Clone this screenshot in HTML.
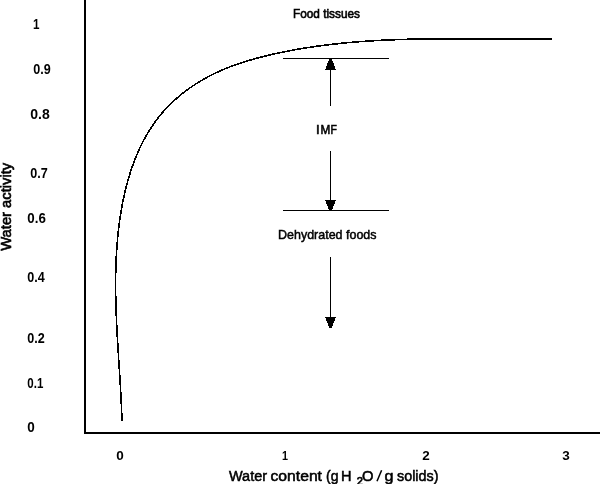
<!DOCTYPE html>
<html><head><meta charset="utf-8">
<style>
html,body{margin:0;padding:0;background:#fff;width:600px;height:484px;overflow:hidden}
svg{display:block;will-change:transform}
text{font-family:"Liberation Sans",sans-serif;fill:#000}
.b{font-weight:bold}
</style></head><body>
<svg width="600" height="484" viewBox="0 0 600 484">
<rect x="0" y="0" width="600" height="484" fill="#fff"/>
<!-- axes -->
<rect x="84" y="0" width="2" height="434" fill="#000"/>
<rect x="84" y="432" width="516" height="2" fill="#000"/>
<!-- curve -->
<path id="curve" transform="translate(0,0.2)" d="M121.99,420.50 L121.93,418.68 L121.86,416.85 L121.80,415.03 L121.73,413.21 L121.66,411.38 L121.58,409.56 L121.50,407.74 L121.42,405.92 L121.34,404.10 L121.25,402.28 L121.16,400.46 L121.07,398.64 L120.97,396.82 L120.88,395.00 L120.78,393.19 L120.68,391.37 L120.58,389.55 L120.47,387.74 L120.37,385.92 L120.26,384.11 L120.15,382.29 L120.04,380.48 L119.93,378.66 L119.82,376.85 L119.71,375.04 L119.59,373.22 L119.48,371.41 L119.36,369.60 L119.25,367.79 L119.13,365.98 L119.02,364.16 L118.90,362.35 L118.79,360.54 L118.67,358.73 L118.56,356.92 L118.44,355.11 L118.33,353.30 L118.22,351.49 L118.11,349.68 L117.99,347.87 L117.88,346.06 L117.78,344.25 L117.67,342.44 L117.56,340.63 L117.46,338.82 L117.35,337.01 L117.25,335.20 L117.15,333.39 L117.05,331.58 L116.96,329.77 L116.87,327.96 L116.78,326.16 L116.69,324.35 L116.60,322.54 L116.52,320.73 L116.44,318.92 L116.36,317.11 L116.29,315.30 L116.22,313.49 L116.15,311.67 L116.08,309.86 L116.02,308.05 L115.97,306.24 L115.91,304.43 L115.86,302.62 L115.82,300.81 L115.78,298.99 L115.74,297.18 L115.71,295.37 L115.68,293.56 L115.66,291.74 L115.64,289.93 L115.63,288.11 L115.62,286.30 L115.61,284.48 L115.62,282.67 L115.62,280.85 L115.64,279.04 L115.65,277.22 L115.68,275.40 L115.71,273.58 L115.74,271.77 L115.78,269.95 L115.83,268.13 L115.89,266.31 L115.95,264.49 L116.01,262.67 L116.09,260.84 L116.17,259.02 L116.26,257.20 L116.35,255.37 L116.45,253.55 L116.56,251.73 L116.68,249.90 L116.80,248.07 L116.93,246.25 L117.07,244.42 L117.22,242.59 L117.37,240.76 L117.54,238.93 L117.71,237.10 L117.89,235.27 L118.08,233.43 L118.27,231.60 L118.48,229.77 L118.69,227.93 L118.91,226.10 L119.15,224.26 L119.39,222.42 L119.64,220.59 L119.90,218.75 L120.17,216.92 L120.45,215.08 L120.74,213.25 L121.04,211.42 L121.35,209.59 L121.67,207.76 L122.00,205.93 L122.34,204.10 L122.69,202.28 L123.06,200.46 L123.43,198.64 L123.81,196.83 L124.21,195.02 L124.62,193.21 L125.04,191.41 L125.47,189.61 L125.91,187.81 L126.37,186.02 L126.83,184.23 L127.31,182.45 L127.81,180.67 L128.31,178.90 L128.83,177.13 L129.36,175.37 L129.90,173.62 L130.45,171.87 L131.02,170.13 L131.61,168.39 L132.20,166.66 L132.81,164.94 L133.43,163.22 L134.07,161.52 L134.72,159.82 L135.39,158.13 L136.07,156.44 L136.76,154.77 L137.47,153.10 L138.19,151.45 L138.93,149.80 L139.68,148.16 L140.45,146.53 L141.24,144.91 L142.04,143.30 L142.85,141.70 L143.68,140.11 L144.53,138.53 L145.39,136.97 L146.27,135.41 L147.16,133.86 L148.07,132.33 L149.00,130.81 L149.94,129.30 L150.90,127.80 L151.88,126.32 L152.88,124.85 L153.89,123.39 L154.92,121.94 L155.97,120.51 L157.03,119.09 L158.11,117.68 L159.21,116.29 L160.33,114.91 L161.47,113.55 L162.62,112.20 L163.79,110.87 L164.98,109.55 L166.19,108.25 L167.41,106.96 L168.65,105.68 L169.90,104.42 L171.18,103.17 L172.46,101.94 L173.77,100.73 L175.09,99.52 L176.42,98.34 L177.77,97.17 L179.13,96.01 L180.51,94.87 L181.90,93.74 L183.31,92.63 L184.73,91.53 L186.16,90.45 L187.61,89.38 L189.07,88.33 L190.54,87.30 L192.02,86.27 L193.52,85.27 L195.02,84.28 L196.54,83.30 L198.08,82.34 L199.62,81.40 L201.17,80.47 L202.73,79.55 L204.31,78.66 L205.89,77.77 L207.49,76.91 L209.09,76.05 L210.70,75.22 L212.33,74.40 L213.96,73.59 L215.60,72.80 L217.25,72.03 L218.90,71.27 L220.57,70.53 L222.24,69.80 L223.92,69.09 L225.61,68.39 L227.30,67.70 L229.00,67.03 L230.71,66.37 L232.42,65.73 L234.14,65.09 L235.87,64.47 L237.60,63.87 L239.34,63.27 L241.08,62.69 L242.83,62.12 L244.58,61.56 L246.34,61.01 L248.10,60.48 L249.86,59.95 L251.63,59.44 L253.40,58.93 L255.18,58.44 L256.96,57.95 L258.74,57.47 L260.52,57.01 L262.31,56.55 L264.10,56.10 L265.89,55.66 L267.68,55.23 L269.48,54.81 L271.27,54.39 L273.07,53.98 L274.87,53.58 L276.67,53.19 L278.46,52.80 L280.26,52.42 L282.06,52.05 L283.86,51.68 L285.66,51.32 L287.46,50.96 L289.26,50.62 L291.06,50.27 L292.86,49.94 L294.67,49.61 L296.47,49.29 L298.27,48.97 L300.07,48.66 L301.88,48.36 L303.68,48.06 L305.48,47.77 L307.29,47.48 L309.09,47.20 L310.90,46.92 L312.70,46.65 L314.51,46.39 L316.31,46.13 L318.12,45.88 L319.92,45.63 L321.73,45.39 L323.54,45.15 L325.34,44.92 L327.15,44.70 L328.96,44.48 L330.77,44.26 L332.57,44.05 L334.38,43.85 L336.19,43.65 L338.00,43.45 L339.81,43.26 L341.62,43.08 L343.43,42.89 L345.24,42.72 L347.05,42.55 L348.86,42.38 L350.67,42.22 L352.48,42.06 L354.29,41.91 L356.10,41.76 L357.91,41.61 L359.73,41.47 L361.54,41.33 L363.35,41.20 L365.16,41.07 L366.98,40.95 L368.79,40.83 L370.60,40.71 L372.41,40.60 L374.23,40.49 L376.04,40.38 L377.86,40.28 L379.67,40.18 L381.49,40.09 L383.30,40.00 L385.11,39.91 L386.93,39.83 L388.74,39.75 L390.56,39.67 L392.38,39.59 L394.19,39.52 L396.01,39.46 L397.82,39.39 L399.64,39.33 L401.46,39.27 L403.27,39.21 L405.09,39.16 L406.91,39.11 L408.72,39.06 L410.54,39.02 L412.36,38.97 L414.18,38.93 L415.99,38.90 L417.81,38.86 L419.63,38.83 L421.45,38.80 L423.26,38.77 L425.08,38.74 L426.90,38.72 L428.72,38.70 L430.54,38.68 L432.36,38.66 L434.18,38.64 L436.00,38.63 L437.81,38.62 L439.63,38.61 L441.45,38.60 L443.27,38.59 L445.09,38.59 L446.91,38.58 L448.73,38.58 L450.55,38.58 L452.37,38.58 L454.19,38.58 L456.01,38.58 L457.83,38.59 L459.65,38.59 L461.47,38.60 L463.29,38.60 L465.11,38.61 L466.93,38.62 L468.75,38.63 L470.57,38.64 L472.39,38.65 L474.21,38.66 L476.03,38.68 L477.85,38.69 L479.67,38.70 L481.50,38.72 L483.32,38.73 L485.14,38.75 L486.96,38.76 L488.78,38.78 L490.60,38.79 L492.42,38.81 L494.24,38.82 L496.06,38.84 L497.88,38.85 L499.70,38.87 L501.52,38.88 L503.35,38.90 L505.17,38.91 L506.99,38.93 L508.81,38.94 L510.63,38.96 L512.45,38.97 L514.27,38.98 L516.09,38.99 L517.91,39.00 L519.73,39.01 L521.55,39.02 L523.37,39.03 L525.19,39.04 L527.01,39.05 L528.84,39.05 L530.66,39.06 L532.48,39.06 L534.30,39.06 L536.12,39.06 L537.94,39.06 L539.76,39.06 L541.58,39.06 L543.40,39.05 L545.22,39.05 L547.04,39.04 L548.86,39.03 L550.68,39.02 L552.50,39.01" fill="none" stroke="#000" stroke-width="1.6" shape-rendering="crispEdges"/>
<!-- horizontal lines -->
<rect x="283" y="58" width="106" height="1" fill="#000"/>
<rect x="283" y="210" width="106" height="1" fill="#000"/>
<!-- arrow 1 up -->
<rect x="330" y="69" width="1" height="37" fill="#000"/>
<polygon shape-rendering="crispEdges" points="329.2,59 331.8,59 336,70 325,70" fill="#000"/>
<!-- arrow 2 down -->
<rect x="330" y="151" width="1" height="50" fill="#000"/>
<polygon shape-rendering="crispEdges" points="325,200 336,200 331.8,210.5 329.2,210.5" fill="#000"/>
<!-- arrow 3 down -->
<rect x="330" y="257" width="1" height="61" fill="#000"/>
<polygon shape-rendering="crispEdges" points="325,317 336,317 331.6,328 329.4,328" fill="#000"/>
<!-- annotations -->
<text x="293" y="17.6" font-size="13.5" textLength="67" lengthAdjust="spacingAndGlyphs" stroke="#000" stroke-width="0.65">Food tissues</text>
<g font-size="13" stroke="#000" stroke-width="0.6"><text x="316" y="134">I</text><text x="320.5" y="134" textLength="9.8" lengthAdjust="spacingAndGlyphs">M</text><text x="330.6" y="134" textLength="6.4" lengthAdjust="spacingAndGlyphs">F</text></g>
<text x="278" y="239" font-size="13.5" textLength="98.5" lengthAdjust="spacingAndGlyphs" stroke="#000" stroke-width="0.5">Dehydrated foods</text>
<!-- y labels -->
<g class="b" font-size="14">
<text x="33" y="29" textLength="6.5" lengthAdjust="spacingAndGlyphs">1</text>
<text x="33.3" y="74" textLength="17.5" lengthAdjust="spacingAndGlyphs">0.9</text>
<text x="30.3" y="119" textLength="19.5" lengthAdjust="spacingAndGlyphs">0.8</text>
<text x="30.3" y="178" textLength="17.5" lengthAdjust="spacingAndGlyphs">0.7</text>
<text x="27.3" y="223" textLength="18.5" lengthAdjust="spacingAndGlyphs">0.6</text>
<text x="27.3" y="282" textLength="17.5" lengthAdjust="spacingAndGlyphs">0.4</text>
<text x="27.3" y="343" textLength="17.5" lengthAdjust="spacingAndGlyphs">0.2</text>
<text x="27.3" y="388" textLength="16" lengthAdjust="spacingAndGlyphs">0.1</text>
<text x="27.3" y="432" textLength="7.5" lengthAdjust="spacingAndGlyphs">0</text>
</g>
<!-- x labels -->
<g class="b" font-size="13">
<text x="116.3" y="460" textLength="7.5" lengthAdjust="spacingAndGlyphs">0</text>
<text x="282" y="460" textLength="6" lengthAdjust="spacingAndGlyphs">1</text>
<text x="422.3" y="460" textLength="7.5" lengthAdjust="spacingAndGlyphs">2</text>
<text x="562.3" y="460" textLength="7.5" lengthAdjust="spacingAndGlyphs">3</text>
</g>
<!-- axis titles -->
<g font-size="15.5" stroke="#000" stroke-width="0.55">
<text x="229" y="481" textLength="38" lengthAdjust="spacingAndGlyphs">Water</text>
<text x="270.5" y="481" textLength="51.5" lengthAdjust="spacingAndGlyphs">content</text>
<text x="326" y="481" textLength="12.5" lengthAdjust="spacingAndGlyphs">(g</text>
<text x="341" y="481" textLength="10.5" lengthAdjust="spacingAndGlyphs">H</text>
<text x="356.8" y="484.8" font-size="11" stroke-width="0.7" textLength="6.2" lengthAdjust="spacingAndGlyphs">2</text>
<text x="362" y="481" textLength="11.5" lengthAdjust="spacingAndGlyphs">O</text>
<path d="M377,481.3 L381.6,470.3" stroke="#000" stroke-width="1.5" fill="none"/>
<text x="384.5" y="481" textLength="9" lengthAdjust="spacingAndGlyphs">g</text>
<text x="397" y="481" textLength="41.5" lengthAdjust="spacingAndGlyphs">solids)</text>
</g>
<text transform="translate(10.8,250.8) rotate(-90)" x="0" y="0" font-size="15" textLength="88" lengthAdjust="spacingAndGlyphs" stroke="#000" stroke-width="0.65">Water activity</text>
</svg>
</body></html>
